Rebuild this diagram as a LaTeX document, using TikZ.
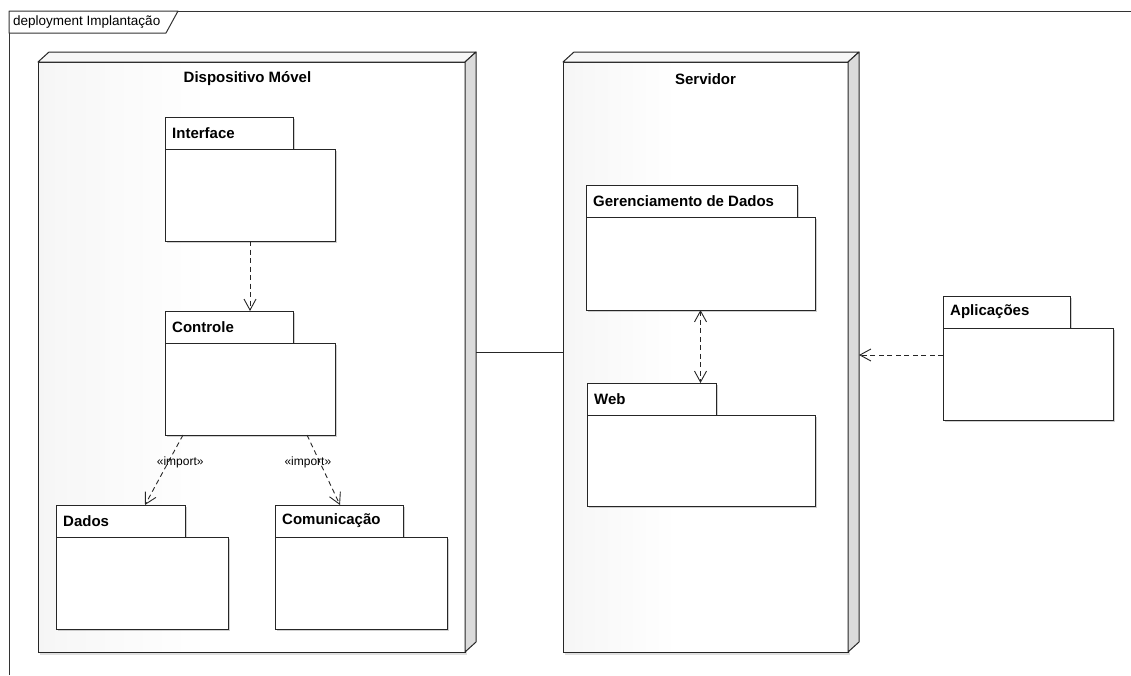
\documentclass[tikz,border=0pt]{standalone}
\usepackage{fontspec}
\setmainfont{Liberation Sans}
\usetikzlibrary{arrows.meta,shadows,calc}
\pgfdeclarehorizontalshading{facefade}{100bp}{color(0bp)=(black!11); color(12bp)=(black!8); color(28bp)=(black!3); color(45bp)=(white); color(100bp)=(white)}
\tikzset{
  pkgshape/.style={draw=black!85, fill=white, line width=1pt, inner sep=0pt, outer sep=0pt, anchor=north west,
    drop shadow={shadow xshift=1.5pt, shadow yshift=-1.5pt, opacity=0.3, fill=black!60}},
  pkglabel/.style={anchor=west, inner sep=0pt, font=\bfseries\fontsize{15}{18}\selectfont},
  nodetitle/.style={inner sep=0pt, font=\bfseries\fontsize{15}{18}\selectfont},
  frontface/.style={draw=black!85, shading=facefade, line width=1pt, inner sep=0pt, outer sep=0pt, anchor=north west,
    drop shadow={shadow xshift=2pt, shadow yshift=-3pt, opacity=0.25, fill=black!50}},
  sideface/.style={draw=black!85, line width=1pt, fill=black!14, line join=round},
  topface/.style={draw=black!85, line width=1pt, fill=black!3, line join=round},
  dashline/.style={draw=black!85, line width=0.9pt, dash pattern=on 5pt off 3.5pt},
  openhead/.style={-{Straight Barb[length=11pt,width=12pt]}},
  openboth/.style={{Straight Barb[length=11pt,width=12pt]}-{Straight Barb[length=11pt,width=12pt]}},
  stereo/.style={inner sep=1pt, font=\fontsize{12}{14}\selectfont},
  framelabel/.style={anchor=west, inner sep=0pt, font=\fontsize{13.5}{16}\selectfont},
}
\newcommand\umlpkg[7]{%
  \node[pkgshape, minimum width=#4pt, minimum height=32pt] (#1tab) at (#2,#3) {};
  \node[pkgshape, minimum width=#5pt, minimum height=#6pt] (#1) at (#2,#3+32) {};
  \node[pkglabel] (#1lbl) at ([xshift=7pt]#1tab.west) {#7};
}
\begin{document}
\begin{tikzpicture}[x=1pt,y=-1pt]
\useasboundingbox (0,0) rectangle (1131,675);
\fill[white] (0,0) rectangle (1131,675);
% frame
\draw[line width=1pt, black!80] (9,675) -- (9,11) -- (1131,11);
\draw[line width=1pt, black!80, fill=white, line join=round] (9,11) -- (178,11) -- (166,33) -- (9,33) -- cycle;
\node[framelabel] (framelbl) at (13,22) {deployment Implantação};

% Dispositivo Movel
\node[frontface, minimum width=427pt, minimum height=590pt] (disp) at (38,62) {};
\draw[topface] (disp.north west) -- ++(11,-10) -- ($(disp.north east)+(11,-10)$) -- (disp.north east) -- cycle;
\draw[sideface] (disp.north east) -- ++(11,-10) -- ($(disp.south east)+(11,-10)$) -- (disp.south east) -- cycle;
\node[nodetitle] (disptitle) at ([xshift=-4pt,yshift=-17pt]disp.north) {Dispositivo Móvel};

% Servidor
\node[frontface, minimum width=285pt, minimum height=590pt] (serv) at (563,62) {};
\draw[topface] (serv.north west) -- ++(11,-10) -- ($(serv.north east)+(11,-10)$) -- (serv.north east) -- cycle;
\draw[sideface] (serv.north east) -- ++(11,-10) -- ($(serv.south east)+(11,-10)$) -- (serv.south east) -- cycle;
\coordinate (servR) at ($(serv.north east)+(11,-10)$);
\node[nodetitle] (servtitle) at ([yshift=-17pt]serv.north) {Servidor};

% packages
\umlpkg{interface}{165}{117}{128}{170}{92}{Interface}
\umlpkg{controle}{165}{311}{128}{170}{92}{Controle}
\umlpkg{dados}{56}{505}{129}{172}{92}{Dados}
\umlpkg{comunic}{275}{505}{128}{172}{92}{Comunicação}
\umlpkg{gerenc}{586}{185}{211}{229}{93}{Gerenciamento de Dados}
\umlpkg{web}{587}{383}{129}{228}{91}{Web}
\umlpkg{aplic}{943}{296}{127}{170}{92}{Aplicações}

% connectors
\draw[dashline, openhead] (interface.south) -- (interface.south |- controletab.north);
\draw[dashline, openhead] ([xshift=18pt]controle.south west) --
  node[stereo, pos=0.39, xshift=12pt] (imp1) {«import»} ([xshift=89pt]dadostab.north west);
\draw[dashline, openhead] ([xshift=-28pt]controle.south east) --
  node[stereo, pos=0.39, xshift=-12pt] (imp2) {«import»} ([xshift=65pt]comunictab.north west);
\draw[dashline, openboth] (gerenc.south) -- (gerenc.south |- webtab.north);
\draw[line width=1pt, black!85] ($(disp.east)+(11,-5)$) -- ($(serv.west)+(0,-5)$);
\coordinate (apstart) at ($(aplic.west)+(0,-19)$);
\draw[dashline, openhead] (apstart) -- (apstart -| servR);
\end{tikzpicture}
\end{document}
